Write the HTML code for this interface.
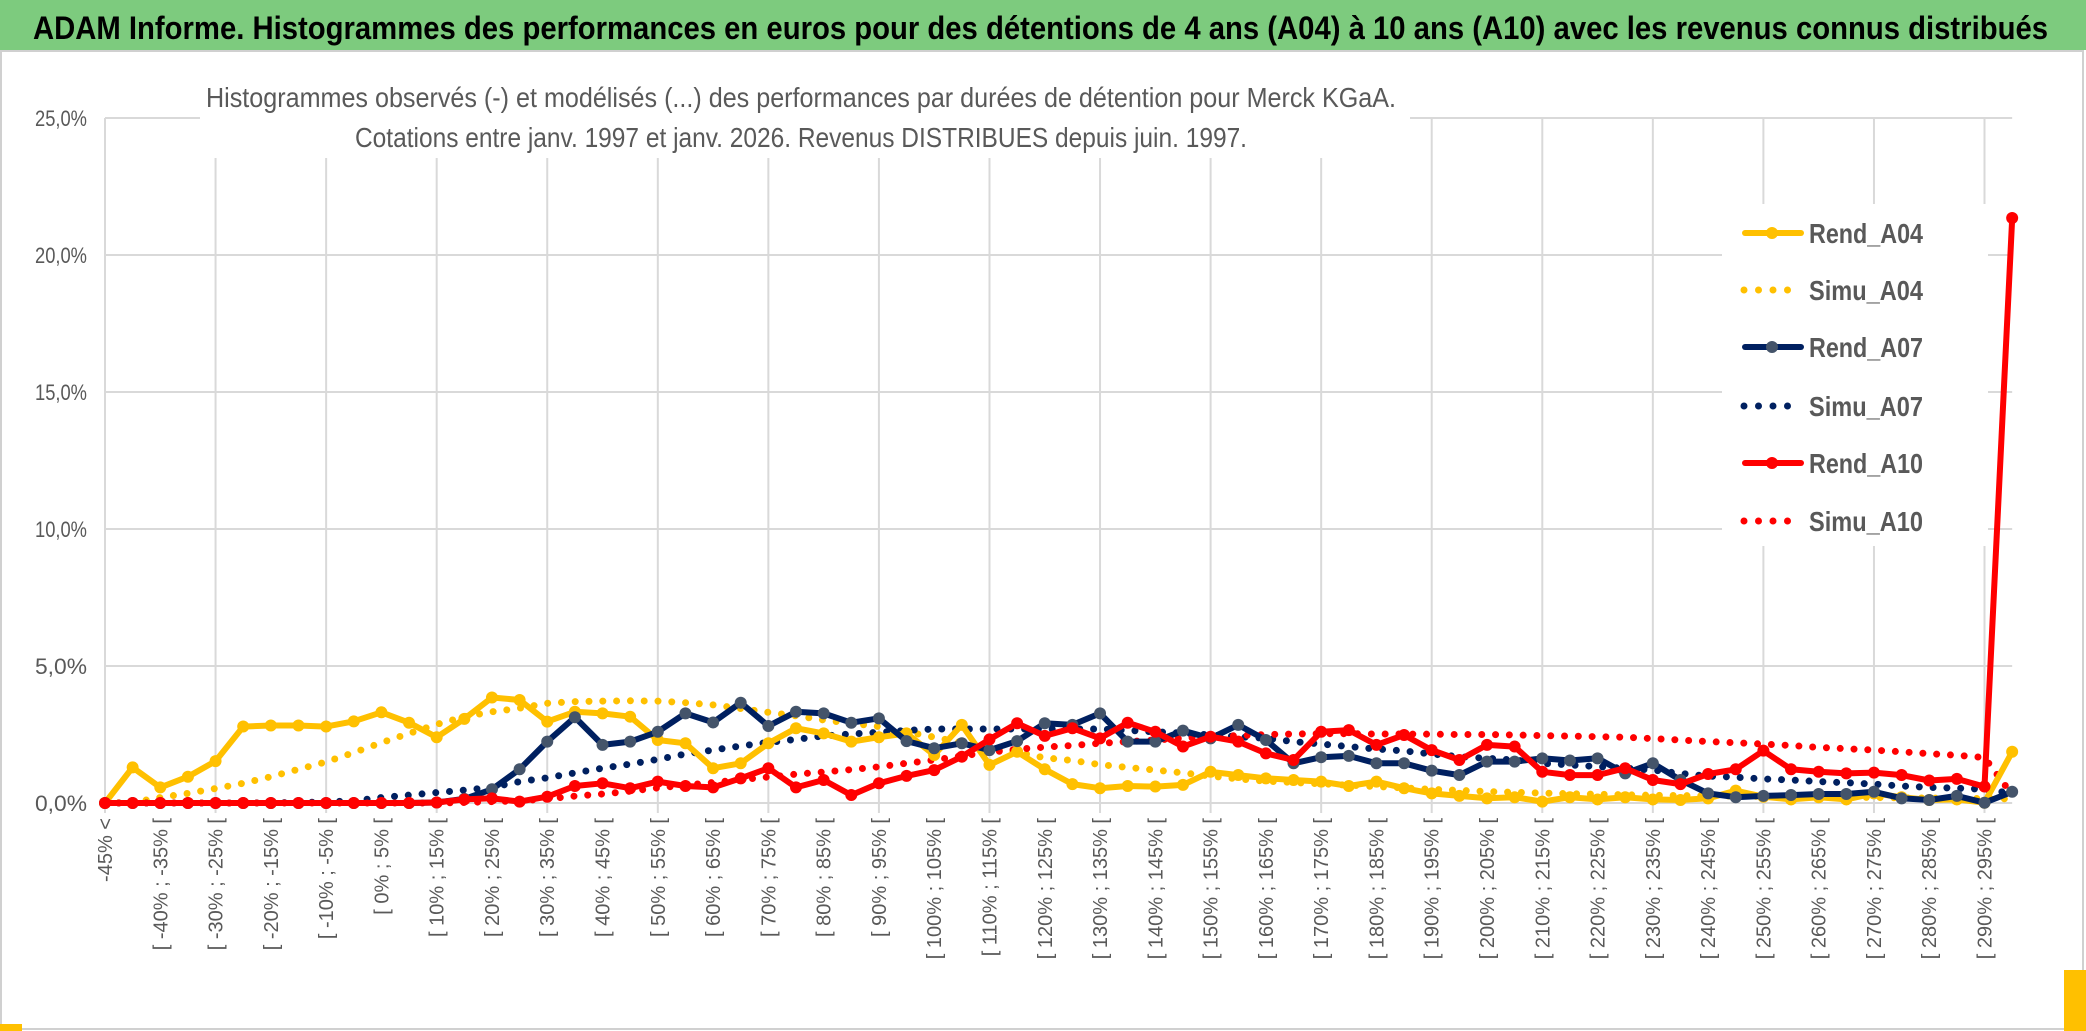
<!DOCTYPE html>
<html><head><meta charset="utf-8"><style>
html,body{margin:0;padding:0;background:#fff;}
svg{display:block;}
text{font-family:"Liberation Sans",sans-serif;}
</style></head><body>
<svg id="chart" width="2086" height="1031" viewBox="0 0 2086 1031" xmlns="http://www.w3.org/2000/svg">
<rect x="0" y="0" width="2086" height="50" fill="#7dcb7e"/>
<text x="33" y="39" font-size="32" font-weight="bold" fill="#000" textLength="2015" lengthAdjust="spacingAndGlyphs">ADAM Informe. Histogrammes des performances en euros pour des détentions de 4 ans (A04) à 10 ans (A10) avec les revenus connus distribués</text>
<rect x="1" y="51" width="2082" height="978" fill="none" stroke="#d0d0d0" stroke-width="2"/>
<rect x="0" y="1024" width="22" height="7" fill="#ffc000"/>
<rect x="2064" y="970" width="22" height="61" fill="#ffc000"/>
<g id="grid"></g>
<g id="series"></g>
<rect x="200" y="78" width="1210" height="80" fill="#fff"/>
<text x="206" y="107" font-size="28" fill="#595959" textLength="1190" lengthAdjust="spacingAndGlyphs">Histogrammes observés (-) et modélisés (...) des performances par durées de détention pour Merck KGaA.</text>
<text x="355" y="147" font-size="28" fill="#595959" textLength="892" lengthAdjust="spacingAndGlyphs">Cotations entre janv. 1997 et janv. 2026. Revenus DISTRIBUES depuis juin. 1997.</text>
<g id="legend"></g>
<g id="xlabels"></g>
<g id="ylabels"></g>
</svg>
<script>
const categories = ["-45% <"];
for (let v = -45; v < 300; v += 5) categories.push("[ " + v + "% ; " + (v + 5) + "% [");
const rendA04 = [0,1.30,0.57,0.96,1.53,2.79,2.83,2.83,2.79,2.98,3.31,2.93,2.40,3.07,3.85,3.76,2.97,3.33,3.27,3.15,2.30,2.18,1.27,1.45,2.18,2.73,2.54,2.24,2.40,2.54,1.75,2.85,1.39,1.87,1.23,0.69,0.54,0.62,0.60,0.66,1.14,1.02,0.90,0.84,0.78,0.62,0.78,0.54,0.35,0.26,0.17,0.21,0.05,0.21,0.13,0.21,0.13,0.11,0.17,0.45,0.23,0.13,0.21,0.13,0.35,0.21,0.11,0.13,0.01,1.87];
const simuA04 = [0,0.02,0.2,0.35,0.53,0.72,0.96,1.23,1.5,1.84,2.2,2.54,2.87,3.15,3.33,3.46,3.64,3.70,3.72,3.73,3.72,3.66,3.58,3.45,3.31,3.18,3.03,2.91,2.79,2.6,2.4,2.2,2.0,1.85,1.65,1.55,1.4,1.3,1.2,1.1,0.98,0.88,0.8,0.75,0.7,0.65,0.6,0.55,0.5,0.46,0.42,0.39,0.36,0.34,0.32,0.3,0.28,0.27,0.26,0.25,0.24,0.23,0.22,0.21,0.2,0.19,0.18,0.17,0.16,0.15];
const rendA07 = [0,0,0,0,0,0,0,0,0,0,0,0,0.02,0.15,0.5,1.23,2.24,3.13,2.12,2.24,2.60,3.27,2.94,3.66,2.81,3.33,3.27,2.93,3.09,2.26,2.0,2.18,1.93,2.26,2.91,2.85,3.27,2.24,2.24,2.64,2.36,2.85,2.30,1.45,1.67,1.72,1.45,1.45,1.18,1.02,1.51,1.51,1.63,1.55,1.63,1.08,1.45,0.84,0.35,0.21,0.26,0.29,0.33,0.33,0.41,0.17,0.11,0.26,0.01,0.41];
const simuA07 = [0,0,0,0,0,0,0.01,0.02,0.04,0.08,0.2,0.29,0.38,0.47,0.57,0.78,0.92,1.1,1.27,1.42,1.59,1.79,1.93,2.08,2.21,2.32,2.45,2.52,2.58,2.65,2.7,2.7,2.7,2.7,2.7,2.7,2.7,2.65,2.6,2.55,2.48,2.42,2.36,2.24,2.15,2.06,1.97,1.9,1.79,1.69,1.63,1.57,1.45,1.39,1.33,1.27,1.2,1.08,0.98,0.94,0.88,0.84,0.78,0.74,0.69,0.62,0.57,0.54,0.5,0.35];
const rendA10 = [0,0,0,0,0,0,0,0,0,0,0,0,0.02,0.13,0.17,0.05,0.23,0.62,0.72,0.54,0.78,0.62,0.57,0.9,1.27,0.57,0.84,0.29,0.72,0.99,1.2,1.69,2.32,2.91,2.45,2.73,2.36,2.93,2.6,2.06,2.42,2.24,1.81,1.57,2.60,2.66,2.12,2.48,1.93,1.57,2.12,2.06,1.14,1.02,1.02,1.27,0.84,0.69,1.06,1.23,1.91,1.23,1.14,1.08,1.11,1.02,0.82,0.88,0.6,21.35];
const simuA10 = [0,0,0,0,0,0,0,0,0,0,0,0,0,0.02,0.05,0.08,0.15,0.25,0.33,0.43,0.55,0.65,0.75,0.85,0.95,1.05,1.13,1.22,1.32,1.45,1.57,1.72,1.85,1.96,2.04,2.1,2.18,2.24,2.3,2.36,2.42,2.46,2.5,2.52,2.53,2.53,2.52,2.52,2.51,2.5,2.5,2.48,2.46,2.44,2.42,2.4,2.35,2.3,2.24,2.2,2.15,2.1,2.03,1.98,1.93,1.87,1.8,1.74,1.66,0.3];
const yTicks = [0,5,10,15,20,25];
const yTickLabels = ["0,0%","5,0%","10,0%","15,0%","20,0%","25,0%"];
const legendNames = ["Rend_A04","Simu_A04","Rend_A07","Simu_A07","Rend_A10","Simu_A10"];

const NS = "http://www.w3.org/2000/svg";
const X0 = 105, DX = 27.64, Y0 = 803, PPU = 27.4;
const xs = i => X0 + i * DX;
const ys = v => Y0 - v * PPU;
function mk(tag, attrs, parent) {
  const e = document.createElementNS(NS, tag);
  for (const k in attrs) e.setAttribute(k, attrs[k]);
  parent.appendChild(e);
  return e;
}
const grid = document.getElementById("grid");
const xRight = xs(categories.length - 1);
yTicks.forEach((t, k) => {
  const l = mk("line", {x1: X0, x2: xRight, y1: ys(t), y2: ys(t), stroke: "#d9d9d9", "stroke-width": 2}, grid);
  
  
});
for (let i = 0; i < categories.length; i += 4) {
  const l = mk("line", {x1: xs(i), x2: xs(i), y1: ys(25), y2: Y0 + 10, stroke: "#d9d9d9", "stroke-width": 2}, grid);
  
  
}
const yl = document.getElementById("ylabels");
yTicks.forEach((t, k) => {
  const tx = mk("text", {x: 87, y: ys(t) + 8, "text-anchor": "end", "font-size": 22, fill: "#595959", textLength: 52, lengthAdjust: "spacingAndGlyphs"}, yl);
  tx.textContent = yTickLabels[k];
  
  
});
const xl = document.getElementById("xlabels");
categories.forEach((c, i) => {
  if (i % 2 !== 0) return;
  const x = xs(i) + 7, y = 818;
  const tx = mk("text", {x: x, y: y, "text-anchor": "end", "font-size": 20, fill: "#595959", transform: "rotate(-90 " + x + " " + y + ")"}, xl);
  tx.textContent = c;
  
  
});
const seriesG = document.getElementById("series");
const defs = [
  {data: simuA04, color: "#ffc000", dotted: true, name: "series-simu-a04"},
  {data: simuA07, color: "#002060", dotted: true, name: "series-simu-a07"},
  {data: simuA10, color: "#ff0000", dotted: true, name: "series-simu-a10"},
  {data: rendA04, color: "#ffc000", marker: "#ffc000", name: "series-rend-a04"},
  {data: rendA07, color: "#002060", marker: "#44546a", name: "series-rend-a07"},
  {data: rendA10, color: "#ff0000", marker: "#ff0000", name: "series-rend-a10"}
];
defs.forEach(s => {
  const g = mk("g", {}, seriesG);
  
  
  const pts = s.data.map((v, i) => xs(i).toFixed(1) + "," + ys(v).toFixed(1)).join(" ");
  const pl = mk("polyline", {points: pts, fill: "none", stroke: s.color, "stroke-linejoin": "round", "stroke-linecap": "round"}, g);
  if (s.dotted) { pl.setAttribute("stroke-width", 7); pl.setAttribute("stroke-dasharray", "0 13.8"); }
  else pl.setAttribute("stroke-width", 6);
  
  
  if (s.marker) s.data.forEach((v, i) => {
    const c = mk("circle", {cx: xs(i), cy: ys(v), r: 6, fill: s.marker}, g);
    
    
  });
});
const lg = document.getElementById("legend");
const lbox = mk("rect", {x: 1722, y: 204, width: 266, height: 342, fill: "#fff"}, lg);


const legendColors = ["#ffc000","#ffc000","#002060","#002060","#ff0000","#ff0000"];
const legendMarkers = ["#ffc000",null,"#44546a",null,"#ff0000",null];
const legendY = [233,290,347,406,463,521];
legendNames.forEach((n, k) => {
  const g = mk("g", {}, lg);
  
  
  const y = legendY[k];
  if (legendMarkers[k]) {
    mk("line", {x1: 1745, x2: 1801, y1: y, y2: y, stroke: legendColors[k], "stroke-width": 6, "stroke-linecap": "round"}, g);
    mk("circle", {cx: 1772, cy: y, r: 6, fill: legendMarkers[k]}, g);
  } else {
    mk("line", {x1: 1744, x2: k === 5 ? 1800 : 1790, y1: y, y2: y, stroke: legendColors[k], "stroke-width": 7, "stroke-linecap": "round", "stroke-dasharray": "0 14.5"}, g);
  }
  const t = mk("text", {x: 1809, y: y + 10, "font-size": 28, "font-weight": "bold", fill: "#595959", textLength: 114, lengthAdjust: "spacingAndGlyphs"}, g);
  t.textContent = n;
});
</script>
</body></html>
